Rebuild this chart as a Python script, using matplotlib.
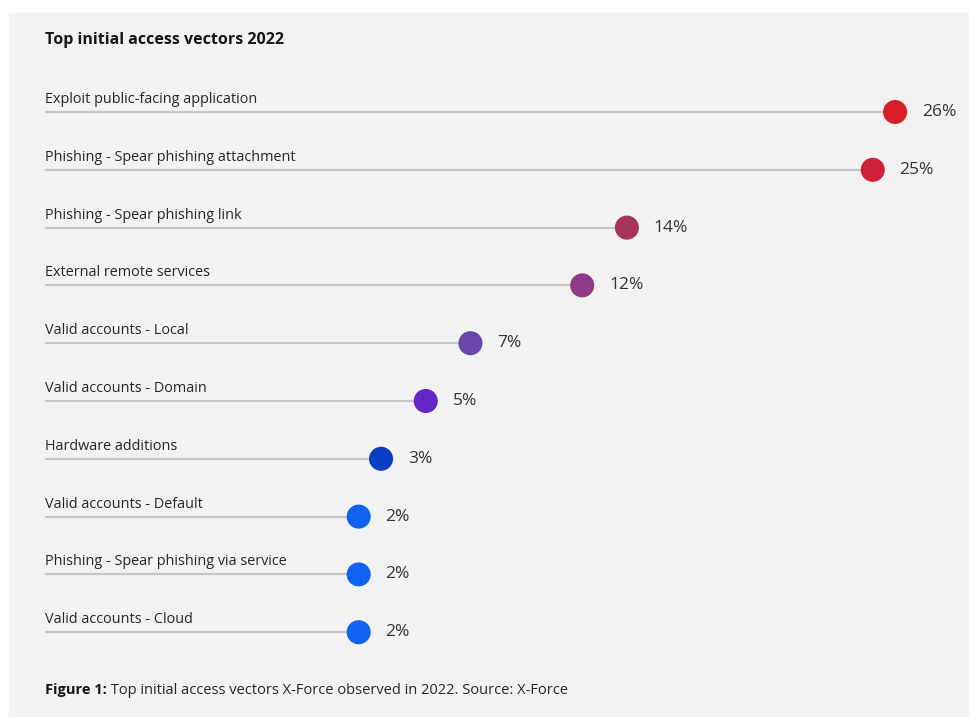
import matplotlib.pyplot as plt
from matplotlib.patches import Rectangle

categories = [
    "Exploit public-facing application",
    "Phishing - Spear phishing attachment",
    "Phishing - Spear phishing link",
    "External remote services",
    "Valid accounts - Local",
    "Valid accounts - Domain",
    "Hardware additions",
    "Valid accounts - Default",
    "Phishing - Spear phishing via service",
    "Valid accounts - Cloud",
]
values = [26, 25, 14, 12, 7, 5, 3, 2, 2, 2]
dot_colors = ["#da1e28", "#d02037", "#a53458", "#8f3a86", "#6b45ab",
              "#6526c8", "#0a3ec2", "#1063f0", "#1063f0", "#1063f0"]

plt.rcParams['font.family'] = ['Open Sans', 'DejaVu Sans']

W, H = 969, 717
fig = plt.figure(figsize=(W / 100, H / 100), dpi=100)
fig.patch.set_facecolor("white")
# light grey card behind everything
fig.patches.append(Rectangle((9 / W, 0), 1 - 9 / W, 1 - 13 / H,
                             transform=fig.transFigure, color="#f2f2f2", zorder=-5))

ax = fig.add_axes([0, 0, 1, 1])
ax.set_facecolor("none")
px = 22.35      # pixels per percent
x0 = 314        # pixel of 0%
ax.set_xlim(-x0 / px, (W - x0) / px)
row = 57.8
top = 112
ax.set_ylim((H - top) / row, -top / row)
ax.axis("off")

start = (45 - x0) / px
for i, (cat, v, c) in enumerate(zip(categories, values, dot_colors)):
    ax.plot([start, v], [i, i], color="#c6c6c6", lw=1.6, zorder=1,
            solid_capstyle="butt")
    ax.scatter([v], [i], s=300, color=c, zorder=3, edgecolors="none")
    ax.text(start, i - 0.215, cat, fontsize=10.4, color="#262626", va="center", ha="left")
    ax.text(v + 1.2, i, f"{v}%", fontsize=12.5, color="#333333", va="center", ha="left",
            fontweight="medium")

fig.text(45 / W, 1 - 40 / H, "Top initial access vectors 2022", fontsize=11.5,
         fontweight="bold", color="#161616", va="center", ha="left")
t1 = fig.text(45 / W, 1 - 690 / H, "Figure 1:", fontsize=10.5, fontweight="bold",
              color="#161616", va="center", ha="left")
ax.annotate(" Top initial access vectors X-Force observed in 2022. Source: X-Force",
            xy=(1, 0.5), xycoords=t1, va="center", ha="left", fontsize=10.5,
            color="#262626", annotation_clip=False)

fig.savefig("out.png", dpi=100, facecolor=fig.get_facecolor())
